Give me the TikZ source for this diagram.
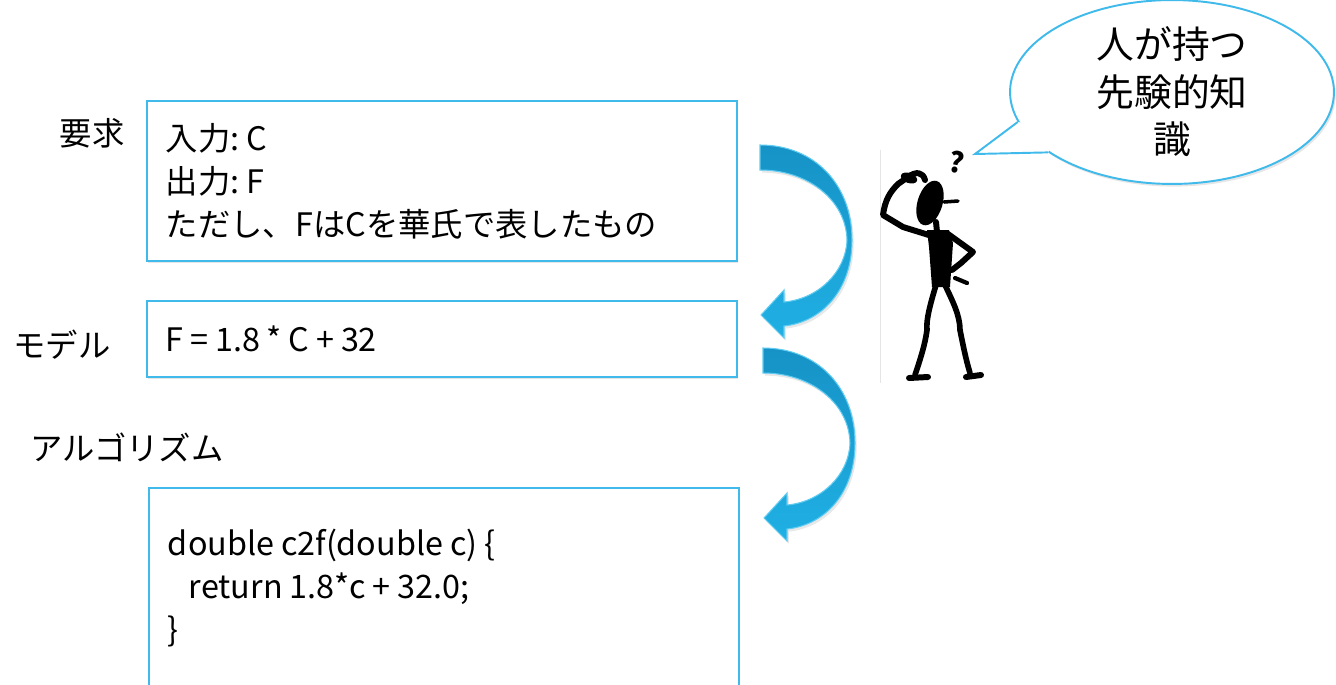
\documentclass[tikz,border=0pt]{standalone}
\usepackage{fontspec}
\setmainfont{Noto Sans CJK JP}
\usetikzlibrary{positioning,calc,shadows,shapes.geometric}

\definecolor{boxline}{RGB}{64,186,234}
\definecolor{arrowdark}{RGB}{22,146,198}
\definecolor{arrowlight}{RGB}{32,176,228}
\definecolor{arrowrim}{RGB}{96,204,242}

% narrower word spaces for the latin parts
\newcommand\narrowspaces{\frenchspacing\spaceskip=0.21em\relax}

\begin{document}
\begin{tikzpicture}[x=0.02cm,y=-0.02cm,
        spec/.style={rectangle, draw=boxline, line width=1.1pt, fill=white,
            anchor=north west, minimum width=11.8cm, text width=11.04cm,
            inner xsep=0.38cm, align=left,
            font=\fontsize{18.4}{24.4}\selectfont,
            execute at begin node={\narrowspaces},
            drop shadow={opacity=0.2, shadow xshift=0.8pt, shadow yshift=-1.2pt}},
        stage/.style={font=\fontsize{18.4}{22}\selectfont},
        bendarrow/.style={draw=arrowrim, line width=0.6pt,
            top color=arrowdark, bottom color=arrowlight,
            drop shadow={opacity=0.18, shadow xshift=1pt, shadow yshift=-1.5pt}},
        bubble/.style={ellipse, draw=boxline, line width=1.1pt, fill=white,
            minimum width=6.48cm, minimum height=3.4cm, inner sep=0pt,
            align=center, font=\fontsize{21.5}{27}\selectfont,
            drop shadow={opacity=0.2, shadow xshift=1pt, shadow yshift=-1.5pt}},
        stick/.style={line width=3.4pt, line cap=round, line join=round}]
    \useasboundingbox (0,0) rectangle (1336,684);
    \clip (0,0) rectangle (1336,684);

    % boxes
    \node[spec, minimum height=3.2cm] (req) at (146,100)
        {入力: C\\出力: F\\ただし、FはCを華氏で表したもの};
    \node[spec, minimum height=1.52cm] (model) at (146,300) {F = 1.8 * C + 32};
    \node[spec, minimum height=4cm] (algo) at (148,487)
        {double c2f(double c) \{\\\hspace*{0.42cm}return 1.8*c + 32.0;\\\}};

    \node[stage] (reqlabel) at (92,133) {要求};
    \node[stage] (modellabel) at (62,345) {モデル};
    \node[stage] (algolabel) at (127,447) {アルゴリズム};

    % curved arrows between the boxes
    \foreach \dx/\dy in {0/0,3/203}
    {
        \begin{scope}[shift={(\dx,\dy)}]
            \path[bendarrow] (760,145) .. controls (815,145) and (852,185) .. (852,240)
                .. controls (852,290) and (822,322) .. (784,326)
                -- (784,338) -- (761,315) -- (784,290) -- (784,302)
                .. controls (818,299) and (846,272) .. (847,240)
                .. controls (846,200) and (808,170) .. (760,170) -- cycle;
        \end{scope}
    }

    % the thinking man
    \draw[gray!20, line width=0.5pt] (880,150) -- (880,383);
    \node[font=\fontsize{16}{16}\selectfont\bfseries, rotate=-10] (huh) at (957,162) {?};
    \fill[rotate around={-17:(930,203)}] (930,203) ellipse [x radius=0.25cm, y radius=0.46cm];
    \draw[line width=2pt, line cap=round] (944,202) -- (958,201);
    \fill (927,230) -- (949,230) -- (953,243) -- (950,287) -- (932,287) -- (929,247) -- cycle;
    \draw[stick] (936,222) -- (937,232);
    \draw[stick] (932,236) -- (903,227) -- (883,215) .. controls (885,200) and (890,192) .. (898,184)
        -- (908,177) .. controls (916,171) and (923,172) .. (925,180);
    \fill[rotate around={-20:(909,178)}] (909,178) ellipse [x radius=0.17cm, y radius=0.1cm];
    \draw[stick] (948,234) -- (973,252) -- (961,263) -- (952,270);
    \draw[stick, line width=2.4pt] (955,278) -- (967,283);
    \draw[stick, line width=3.2pt] (936,285) .. controls (930,305) and (926,320) .. (927,330)
        .. controls (925,345) and (920,360) .. (915,375);
    \draw[stick, line width=3.4pt] (909,378) -- (928,377);
    \draw[stick, line width=3.2pt] (945,285) .. controls (952,300) and (960,315) .. (960,330)
        .. controls (963,345) and (966,360) .. (970,373);
    \draw[stick, line width=3.4pt] (966,377) -- (981,375);

    % speech bubble
    \node[bubble] (know) at (1172,92) {人が持つ\\先験的知\\識};
    \coordinate (tip) at (975,154);
    \fill[white] (tip) -- (know.191) -- ($(know.center)!0.8!(know.198)$) -- (know.206) -- cycle;
    \draw[draw=boxline, line width=1.1pt, line join=miter] (know.191) -- (tip) -- (know.206);
\end{tikzpicture}
\end{document}
